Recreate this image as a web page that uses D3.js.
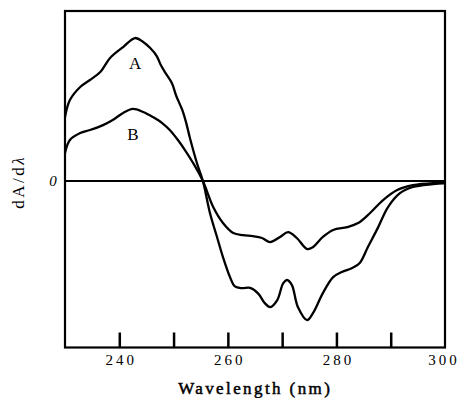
<!DOCTYPE html>
<html>
<head>
<meta charset="utf-8">
<script src="https://cdn.jsdelivr.net/npm/d3@7"></script>
<style>
  body { margin: 0; background: #fff; }
  text { font-family: "Liberation Serif", "DejaVu Serif", serif; fill: #000; }
</style>
</head>
<body>
<svg id="grafico"></svg>
<script>
// wavelength (nm) and dA/dλ (arbitrary units)
const lambdaA = [230, 230.9, 232.8, 234.6, 236.5, 238.3, 240.7, 242.9, 244.4, 245.7, 246.9, 247.6, 248.4, 249.7, 250.5, 251.6, 252.3, 253.0, 254.3, 255.4, 256.7, 258.0, 259.1, 260.4, 261.3, 262.6, 264.1, 265.6, 266.8, 267.8, 269.1, 270.2, 270.9, 271.8, 272.9, 274.6, 275.7, 277.5, 279.4, 281.0, 282.9, 284.3, 285.8, 287.7, 289.5, 291.7, 294.1, 297.8, 300];
const valoresA = [3.76, 4.76, 5.53, 5.94, 6.41, 7.24, 7.88, 8.41, 8.18, 7.82, 7.35, 6.85, 6.41, 5.75, 5.0, 4.18, 3.45, 2.55, 1.06, 0, -1.88, -3.29, -4.47, -5.65, -6.2, -6.3, -6.28, -6.62, -7.18, -7.41, -7.0, -6.0, -5.82, -6.12, -7.41, -8.18, -7.76, -6.59, -5.65, -5.35, -5.12, -4.82, -3.88, -2.71, -1.53, -0.71, -0.35, -0.18, -0.12];

const lambdaB = [230, 230.9, 232.8, 234.6, 237.0, 238.8, 240.7, 242.5, 244.4, 246.2, 247.9, 249.3, 250.8, 252.1, 253.6, 255.4, 257.3, 259.1, 261.0, 262.8, 264.6, 266.3, 267.8, 269.6, 271.1, 272.7, 274.6, 275.7, 277.5, 279.4, 282.0, 284.0, 286.2, 288.6, 291.2, 294.1, 297.8, 300];
const valoresB = [1.65, 2.41, 2.82, 3.0, 3.29, 3.59, 4.0, 4.24, 4.06, 3.76, 3.41, 3.0, 2.41, 1.82, 1.06, 0, -1.53, -2.47, -3.06, -3.18, -3.24, -3.35, -3.59, -3.29, -3.0, -3.35, -4.0, -3.88, -3.29, -2.88, -2.71, -2.47, -1.88, -1.12, -0.53, -0.24, -0.12, -0.12];

const ticksX = [240, 250, 260, 270, 280, 290, 300];
const rotulosX = [240, 260, 280, 300];

const largura = 461, altura = 398;
const margem = { esquerda: 65, direita: 16, superior: 11, inferior: 50.5 };

const svg = d3.select('#grafico').attr('width', largura).attr('height', altura);
const plotagem = svg.append('g').attr('transform', `translate(${margem.esquerda}, ${margem.superior})`);

const larguraPlotagem = largura - margem.esquerda - margem.direita;
const alturaPlotagem = altura - margem.superior - margem.inferior;

const x = d3.scaleLinear().domain([230, 300]).range([0, larguraPlotagem]);
const y = d3.scaleLinear().domain([-9.79, 10]).range([alturaPlotagem, 0]);

// eixo x: marcas para dentro
const eixoX = d3.axisBottom(x)
  .tickValues(ticksX)
  .tickSizeInner(-15)
  .tickSizeOuter(0)
  .tickPadding(7)
  .tickFormat(d => rotulosX.includes(d) ? d : '');

const gx = plotagem.append('g')
  .attr('transform', `translate(0, ${alturaPlotagem})`)
  .call(eixoX);
gx.select('.domain').remove();
gx.selectAll('.tick line').attr('stroke', '#000').attr('stroke-width', 2.5)
  .filter(d => d === 300).remove();
gx.selectAll('.tick text')
  .attr('font-size', 15)
  .attr('letter-spacing', 3)
  .attr('dx', d => d === 300 ? -1.5 : 1.5)
  .attr('font-family', '"Liberation Serif", serif');

// moldura
plotagem.append('rect')
  .attr('x', 0).attr('y', 0)
  .attr('width', larguraPlotagem).attr('height', alturaPlotagem)
  .attr('fill', 'none').attr('stroke', '#000').attr('stroke-width', 2.2);

// linha do zero
plotagem.append('line')
  .attr('x1', 0).attr('x2', larguraPlotagem)
  .attr('y1', y(0)).attr('y2', y(0))
  .attr('stroke', '#000').attr('stroke-width', 2);

const linha = d3.line()
  .x(d => x(d[0]))
  .y(d => y(d[1]))
  .curve(d3.curveCatmullRom.alpha(0.5));

plotagem.append('path')
  .datum(d3.zip(lambdaA, valoresA))
  .attr('d', linha)
  .attr('fill', 'none').attr('stroke', '#000').attr('stroke-width', 2.3)
  .attr('stroke-linejoin', 'round');

plotagem.append('path')
  .datum(d3.zip(lambdaB, valoresB))
  .attr('d', linha)
  .attr('fill', 'none').attr('stroke', '#000').attr('stroke-width', 2.3)
  .attr('stroke-linejoin', 'round');

// rótulos das curvas
plotagem.append('text').text('A')
  .attr('x', x(242.9)).attr('y', y(6.6))
  .attr('text-anchor', 'middle').attr('font-size', 17);
plotagem.append('text').text('B')
  .attr('x', x(242.5)).attr('y', y(2.4))
  .attr('text-anchor', 'middle').attr('font-size', 17);

// zero
svg.append('text').text('0')
  .attr('x', 53).attr('y', margem.superior + y(0) + 5)
  .attr('text-anchor', 'middle').attr('font-size', 15).attr('font-style', 'italic');

// títulos dos eixos
svg.append('text')
  .attr('transform', `translate(24, 183) rotate(-90)`)
  .attr('text-anchor', 'middle').attr('font-size', 17).attr('letter-spacing', 2.5)
  .attr('dx', 1.25)
  .html('dA/d<tspan font-style="italic">λ</tspan>');

svg.append('text').text('Wavelength (nm)')
  .attr('x', 254).attr('y', 394)
  .attr('dx', 1.2)
  .attr('text-anchor', 'middle').attr('font-size', 17)
  .attr('stroke', '#000').attr('stroke-width', 0.5)
  .attr('letter-spacing', 2.4);
</script>
</body>
</html>
